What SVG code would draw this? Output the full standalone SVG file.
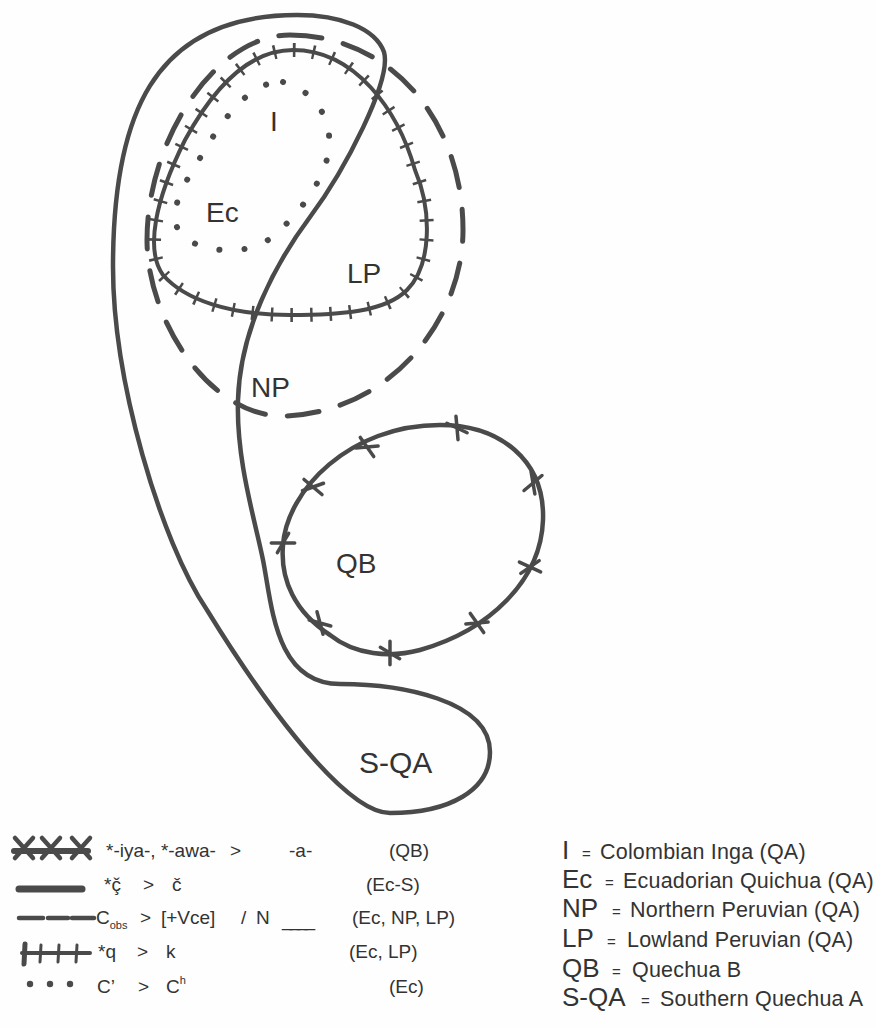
<svg xmlns="http://www.w3.org/2000/svg" xmlns:xlink="http://www.w3.org/1999/xlink" width="876" height="1029" viewBox="0 0 876 1029">
<style>
.ln{fill:none;stroke:#4a4a4a;stroke-linecap:round;stroke-linejoin:round}
.solid{stroke-width:4.5}
.dash{stroke-width:5;stroke-dasharray:32 22}
.hbase{stroke-width:4}
.hticks{stroke-width:14;stroke-dasharray:2.5 17;stroke-linecap:butt}
.dots{stroke-width:6;stroke-dasharray:0.1 25}
.xm{fill:none;stroke:#4a4a4a;stroke-width:3.5;stroke-linecap:round}
.xl{fill:none;stroke:#4a4a4a;stroke-width:4.5;stroke-linecap:round}
text{font-family:"Liberation Sans",Arial,sans-serif;fill:#333}
.lbl{font-size:28px}
.abbr{font-size:26px}
.eq{font-size:15px}
.desc{font-size:21.5px;letter-spacing:0.2px}
.leg{font-size:19px}
</style>
<defs>
<path id="xm" class="xm" d="M-11,-2 L11,2 M-4,-11 L4,11"/>
<path id="xl" class="xl" d="M-9,-10 L9,10 M9,-10 L-9,10"/>
</defs>
<rect width="876" height="1029" fill="#fefefe"/>
<g id="connectors">
<g id="ec-s-isogloss">
<path class="ln solid" d="M297,15 C340,15 375,28 384,52 C392,80 345,170 310,217 C275,264 240,330 238,400 C236,460 255,520 263,560 C272,605 275,684 340,684 C400,684 490,700 490,752 C490,790 450,813 390,813 C340,813 250,680 207,610 C160,540 113,380 113,267 C113,120 150,15 297,15 Z"/>
</g>
<g id="cobs-isogloss">
<path class="ln dash" d="M290,35 C390,35 463,120 463,230 C463,320 390,412 285,416 C210,418 147,320 147,240 C147,140 215,35 290,35 Z"/>
</g>
<g id="q-isogloss">
<path class="ln hbase" d="M293,50 C355,50 398,110 415,170 C432,210 432,265 407,290 C385,312 340,315 290,315 C230,315 185,300 163,275 C145,250 155,200 185,140 C215,85 250,50 293,50 Z"/>
<path class="ln hticks" d="M293,50 C355,50 398,110 415,170 C432,210 432,265 407,290 C385,312 340,315 290,315 C230,315 185,300 163,275 C145,250 155,200 185,140 C215,85 250,50 293,50 Z"/>
</g>
<g id="glottal-isogloss">
<path class="ln dots" d="M283,82 C312,90 332,115 329,148 C326,180 295,220 268,240 C245,256 200,252 183,236 C165,218 180,190 200,158 C222,120 250,80 283,82 Z"/>
</g>
<g id="qb-isogloss">
<path class="ln solid" d="M440,425 C500,425 545,460 543,520 C541,580 490,630 420,650 C390,658 355,655 330,635 C295,612 280,580 283,545 C287,490 350,425 440,425 Z"/>
<use xlink:href="#xm" transform="translate(457,428) rotate(15)"/>
<use xlink:href="#xm" transform="translate(367,447) rotate(-15)"/>
<use xlink:href="#xm" transform="translate(313,487) rotate(-30)"/>
<use xlink:href="#xm" transform="translate(283,543) rotate(-70)"/>
<use xlink:href="#xm" transform="translate(320,623) rotate(5)"/>
<use xlink:href="#xm" transform="translate(390,653) rotate(20)"/>
<use xlink:href="#xm" transform="translate(477,623) rotate(-15)"/>
<use xlink:href="#xm" transform="translate(530,567) rotate(-45)"/>
<use xlink:href="#xm" transform="translate(533,483) rotate(70)"/>
</g>
</g>
<g id="node-I"><text class="lbl" x="270" y="131">I</text></g>
<g id="node-Ec"><text class="lbl" x="206" y="222">Ec</text></g>
<g id="node-LP"><text class="lbl" x="347" y="283">LP</text></g>
<g id="node-NP"><text class="lbl" x="251" y="397">NP</text></g>
<g id="node-QB"><text class="lbl" x="336" y="573">QB</text></g>
<g id="node-SQA"><text class="lbl" x="359" y="773" style="font-size:30px">S-QA</text></g>
<g id="legend-symbols">
<line class="ln" x1="14" y1="851" x2="88" y2="851" style="stroke-width:6"/>
<use xlink:href="#xl" transform="translate(24,848)"/>
<use xlink:href="#xl" transform="translate(51,848)"/>
<use xlink:href="#xl" transform="translate(81,848)"/>
<line class="ln" x1="19" y1="889" x2="82" y2="889" style="stroke-width:7"/>
<line class="ln" x1="19" y1="918" x2="43" y2="918" style="stroke-width:4.5"/>
<line class="ln" x1="48" y1="918" x2="68" y2="918" style="stroke-width:4.5"/>
<line class="ln" x1="72" y1="918" x2="94" y2="918" style="stroke-width:4.5"/>
<line class="ln" x1="22" y1="953" x2="90" y2="953" style="stroke-width:4"/>
<line class="ln" x1="25" y1="944" x2="24" y2="964" style="stroke-width:5"/>
<line class="ln" x1="41" y1="945" x2="40" y2="962" style="stroke-width:3"/>
<line class="ln" x1="59" y1="945" x2="58" y2="962" style="stroke-width:3"/>
<line class="ln" x1="77" y1="945" x2="76" y2="962" style="stroke-width:3"/>
<circle cx="30" cy="984" r="3.2" fill="#4a4a4a"/>
<circle cx="50" cy="984" r="3.2" fill="#4a4a4a"/>
<circle cx="70" cy="984" r="3.2" fill="#4a4a4a"/>
</g>
<g id="legend-rules">
<text class="leg" x="106" y="857">*-iya-, *-awa-</text>
<text class="leg" x="230" y="857">&gt;</text>
<text class="leg" x="289" y="857">-a-</text>
<text class="leg" x="389" y="857">(QB)</text>
<text class="leg" x="104" y="891">*ç̌</text>
<text class="leg" x="143" y="891">&gt;</text>
<text class="leg" x="172" y="891">č</text>
<text class="leg" x="366" y="891">(Ec-S)</text>
<text class="leg" x="96" y="924">C<tspan style="font-size:11px" dy="5">obs</tspan></text>
<text class="leg" x="140" y="924">&gt;</text>
<text class="leg" x="161" y="924">[+Vce]</text>
<text class="leg" x="241" y="924">/</text>
<text class="leg" x="256" y="924">N</text>
<text class="leg" x="282" y="926" textLength="33">____</text>
<text class="leg" x="352" y="924">(Ec, NP, LP)</text>
<text class="leg" x="98" y="958">*q</text>
<text class="leg" x="137" y="958">&gt;</text>
<text class="leg" x="166" y="958">k</text>
<text class="leg" x="349" y="958">(Ec, LP)</text>
<text class="leg" x="97" y="993">C’</text>
<text class="leg" x="138" y="993">&gt;</text>
<text class="leg" x="166" y="993">C<tspan style="font-size:11px" dy="-9">h</tspan></text>
<text class="leg" x="389" y="993">(Ec)</text>
</g>
<g id="legend-key">
<text class="abbr" x="562" y="859">I</text><text class="eq" x="582" y="859">=</text><text class="desc" x="600" y="859">Colombian Inga (QA)</text>
<text class="abbr" x="562" y="888">Ec</text><text class="eq" x="605" y="888">=</text><text class="desc" x="623" y="888">Ecuadorian Quichua (QA)</text>
<text class="abbr" x="562" y="917">NP</text><text class="eq" x="612" y="917">=</text><text class="desc" x="630" y="917">Northern Peruvian (QA)</text>
<text class="abbr" x="562" y="947">LP</text><text class="eq" x="607" y="947">=</text><text class="desc" x="627" y="947">Lowland Peruvian (QA)</text>
<text class="abbr" x="562" y="977">QB</text><text class="eq" x="612" y="977">=</text><text class="desc" x="632" y="977">Quechua B</text>
<text class="abbr" x="562" y="1006">S-QA</text><text class="eq" x="641" y="1006">=</text><text class="desc" x="660" y="1006">Southern Quechua A</text>
</g>
</svg>
